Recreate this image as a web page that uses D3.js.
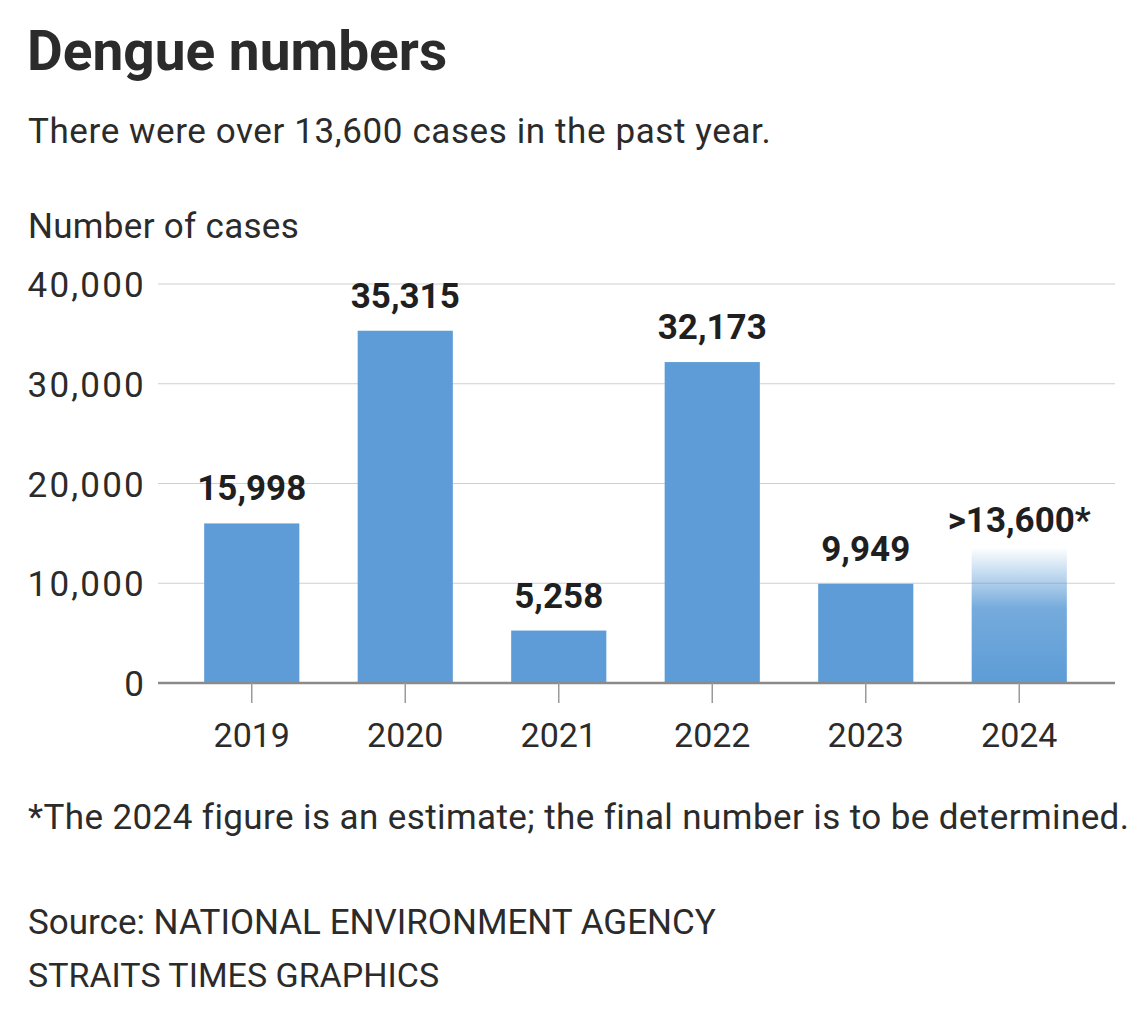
<!DOCTYPE html>
<html>
<head>
<meta charset="utf-8">
<script src="https://cdn.jsdelivr.net/npm/d3@7"></script>
<style>
  body { margin: 0; background: #fff; }
  svg text { font-family: Roboto, "Open Sans", sans-serif; fill: #2b2b2b; }
</style>
</head>
<body>
<div id="chart"></div>
<script>
// Chart data
var years = ['2019', '2020', '2021', '2022', '2023', '2024'];
var cases = [15998, 35315, 5258, 32173, 9949, 13600];
var caseLabels = ['15,998', '35,315', '5,258', '32,173', '9,949', '>13,600*'];
var yTicks = [0, 10000, 20000, 30000, 40000];

const W = 1140, H = 1021;
const margin = { top: 284, left: 158, right: 25, bottom: 338 };

const svg = d3.select("#chart")
    .append("svg")
    .attr("width", W)
    .attr("height", H);

const defs = svg.append("defs");
const grad = defs.append("linearGradient")
    .attr("id", "fade")
    .attr("x1", 0).attr("y1", 0).attr("x2", 0).attr("y2", 1);
grad.append("stop").attr("offset", "0%").attr("stop-color", "#5d9cd6").attr("stop-opacity", 0);
grad.append("stop").attr("offset", "45%").attr("stop-color", "#5d9cd6").attr("stop-opacity", 0.85);
grad.append("stop").attr("offset", "100%").attr("stop-color", "#5d9cd6").attr("stop-opacity", 1);

const x = d3.scaleBand()
    .domain(years)
    .range([175, 1096])
    .paddingInner(0.38)
    .paddingOuter(0.19);

const y = d3.scaleLinear()
    .domain([0, 40000])
    .range([683, 284]);

// titles
svg.append("text")
    .attr("x", 27).attr("y", 70)
    .style("font-size", "55px").style("font-weight", 700)
    .text("Dengue numbers");

svg.append("text")
    .attr("x", 28).attr("y", 143)
    .style("font-size", "35px")
    .style("letter-spacing", "0.6px")
    .text("There were over 13,600 cases in the past year.");

svg.append("text")
    .attr("x", 28).attr("y", 238)
    .style("font-size", "35px")
    .style("letter-spacing", "0.3px")
    .text("Number of cases");

// gridlines
svg.append("g")
    .selectAll("line")
    .data(yTicks.slice(1))
    .enter().append("line")
    .attr("x1", margin.left).attr("x2", W - margin.right)
    .attr("y1", d => y(d)).attr("y2", d => y(d))
    .attr("stroke", "#cfcfcf")
    .attr("stroke-width", 1.2);

// y axis labels
const yAxis = svg.append("g")
    .attr("transform", "translate(146,0)")
    .call(d3.axisLeft(y).tickValues(yTicks).tickSize(0).tickPadding(0).tickFormat(d3.format(",")));
yAxis.select(".domain").remove();
yAxis.selectAll("text")
    .style("font-size", "35px")
    .style("letter-spacing", "2.2px")
    .attr("dy", "0.36em");

// bars
svg.append("g")
    .selectAll("rect")
    .data(years)
    .enter().append("rect")
    .attr("x", d => x(d))
    .attr("width", x.bandwidth())
    .attr("y", (d, i) => y(cases[i]))
    .attr("height", (d, i) => y(0) - y(cases[i]))
    .attr("fill", (d, i) => i === years.length - 1 ? "url(#fade)" : "#5d9cd6");

// value labels
svg.append("g")
    .selectAll("text")
    .data(years)
    .enter().append("text")
    .attr("x", d => x(d) + x.bandwidth() / 2)
    .attr("y", (d, i) => y(cases[i]) - (i === years.length - 1 ? 15 : 23))
    .attr("text-anchor", "middle")
    .style("font-size", "35px")
    .style("font-weight", 700)
    .style("fill", "#1f1f1f")
    .text((d, i) => caseLabels[i]);

// x axis
const xAxis = svg.append("g")
    .attr("transform", "translate(0,683)")
    .call(d3.axisBottom(x).tickSize(20).tickPadding(20).tickSizeOuter(0));
xAxis.select(".domain")
    .attr("d", `M${margin.left},0H${W - margin.right}`)
    .attr("stroke", "#8a8a8a")
    .attr("stroke-width", 2.5);
xAxis.selectAll(".tick line")
    .attr("stroke", "#9a9a9a")
    .attr("stroke-width", 1.5);
xAxis.selectAll("text")
    .style("font-size", "34px")
    .style("fill", "#2b2b2b");

// footnotes
svg.append("text")
    .attr("x", 28).attr("y", 829)
    .style("font-size", "35px")
    .style("letter-spacing", "0.4px")
    .text("*The 2024 figure is an estimate; the final number is to be determined.");

svg.append("text")
    .attr("x", 28).attr("y", 934)
    .style("font-size", "35px")
    .text("Source: NATIONAL ENVIRONMENT AGENCY");

svg.append("text")
    .attr("x", 28).attr("y", 987)
    .style("font-size", "34px")
    .text("STRAITS TIMES GRAPHICS");
</script>
</body>
</html>
